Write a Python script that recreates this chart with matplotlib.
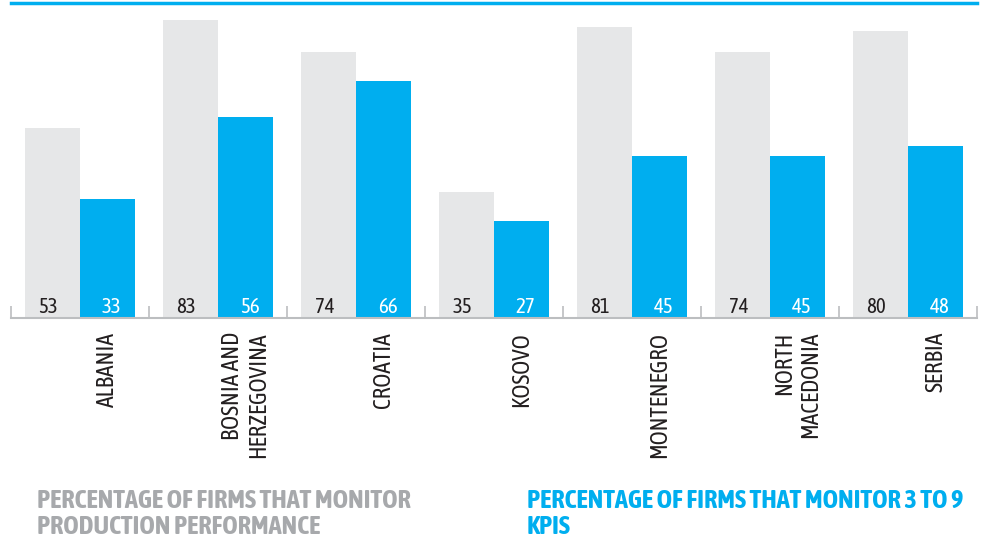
import matplotlib
matplotlib.use("Agg")
import matplotlib.pyplot as plt
import numpy as np

categories = ["ALBANIA", "BOSNIA AND\nHERZEGOVINA", "CROATIA", "KOSOVO",
              "MONTENEGRO", "NORTH\nMACEDONIA", "SERBIA"]
production_performance = [53, 83, 74, 35, 81, 74, 80]
kpis_3_to_9 = [33, 56, 66, 27, 45, 45, 48]
legend_labels = ["PERCENTAGE OF FIRMS THAT MONITOR\nPRODUCTION PERFORMANCE",
                 "PERCENTAGE OF FIRMS THAT MONITOR 3 TO 9\nKPIS"]

GREY = "#e6e7e8"
BLUE = "#00aeef"
DARK = "#231f20"
AXIS = "#bcbec0"
LEGEND_GREY = "#a7a9ac"
FONT = ["Asap Condensed", "DejaVu Sans"]

W, H = 982, 536
fig = plt.figure(figsize=(W / 100, H / 100), dpi=100)
ax = fig.add_axes([11 / W, (H - 318) / H, 966 / W, 315 / H])

n = len(categories)
x = np.arange(n)
bw = 0.4
ax.bar(x + 0.1, production_performance, width=bw, align="edge", color=GREY, zorder=2)
ax.bar(x + 0.5, kpis_3_to_9, width=bw, align="edge", color=BLUE, zorder=2)

ax.set_xlim(0, n)
ax.set_ylim(0, 87.7)

for s in ["left", "right"]:
    ax.spines[s].set_visible(False)
ax.spines["top"].set_color(BLUE)
ax.spines["top"].set_linewidth(2.5)
ax.spines["bottom"].set_color(AXIS)
ax.spines["bottom"].set_linewidth(1.5)

ax.set_yticks([])
ax.set_xticks(np.arange(n + 1))
ax.set_xticklabels([])
ax.tick_params(axis="x", direction="in", length=9, width=1.2, color=AXIS)

for i in range(n):
    ax.annotate(str(production_performance[i]), xy=(x[i] + 0.3, 0),
                xytext=(-4, 5), textcoords="offset pixels",
                ha="center", va="baseline", fontsize=15, color=DARK,
                family=FONT, zorder=3)
    ax.annotate(str(kpis_3_to_9[i]), xy=(x[i] + 0.7, 0),
                xytext=(4, 5), textcoords="offset pixels",
                ha="center", va="baseline", fontsize=15, color="white",
                family=FONT, zorder=3)
    ax.annotate(categories[i], xy=(x[i] + 0.7, 0),
                xytext=(0, -14), textcoords="offset pixels",
                rotation=90, ha="center", va="top", multialignment="right",
                fontsize=17, color=DARK, family=FONT, linespacing=1.2,
                annotation_clip=False)

fig.text(37 / W, 1 - 534 / H, legend_labels[0], ha="left", va="baseline",
         fontsize=19, fontweight="bold", color=LEGEND_GREY, family=FONT,
         linespacing=1.05)
fig.text(527 / W, 1 - 534 / H, legend_labels[1], ha="left", va="baseline",
         fontsize=19, fontweight="bold", color=BLUE, family=FONT,
         linespacing=1.05)

fig.savefig("out.png", dpi=100)
